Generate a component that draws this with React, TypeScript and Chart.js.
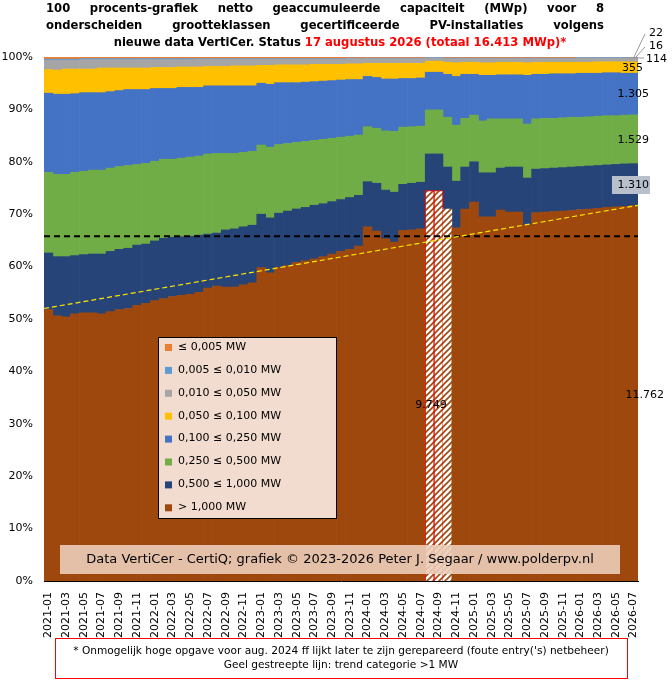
import React, { useEffect, useRef } from "react";
import { Chart, registerables } from "chart.js";
Chart.register(...registerables);

const months: string[] = [];
for (let y = 2021; y <= 2026; y++) for (let m = 1; m <= 12; m++) { if (y === 2026 && m > 7) break; months.push(`${y}-${String(m).padStart(2, "0")}`); }

// cumulative tops (%)
const topGt1MW = [51.8,50.6,50.4,51.0,51.2,51.2,51.0,51.4,51.8,52.0,52.6,53.0,53.5,53.9,54.3,54.5,54.7,55.1,55.9,56.3,56.1,56.1,56.5,56.9,59.8,58.8,59.8,60.2,60.8,61.1,61.5,61.9,62.4,62.9,63.3,63.9,67.6,66.8,65.3,64.7,66.9,67.0,67.2,74.5,74.5,71.0,67.4,71.0,72.3,69.5,69.5,70.8,70.4,70.4,67.9,70.3,70.4,70.5,70.6,70.7,70.9,71.0,71.1,71.3,71.4,71.5,71.66];
const top500_1000 = [62.6,61.9,61.9,62.1,62.3,62.4,62.4,62.9,63.3,63.5,64.1,64.3,64.9,65.4,65.6,65.7,65.8,66.0,66.2,66.4,67.0,67.2,67.6,67.9,70.0,69.3,70.2,70.6,71.0,71.3,71.7,72.0,72.4,72.8,73.2,73.6,76.2,75.9,74.6,74.2,75.7,75.9,76.1,81.5,81.5,79.0,76.3,79.0,80.0,77.9,77.9,78.8,79.0,79.0,76.9,78.6,78.7,78.8,78.9,79.0,79.1,79.2,79.3,79.4,79.5,79.6,79.64];
const top250_500 = [78.0,77.6,77.6,78.0,78.2,78.4,78.4,78.8,79.1,79.3,79.5,79.7,80.1,80.5,80.5,80.7,80.9,81.1,81.5,81.6,81.6,81.6,81.8,82.0,83.2,82.8,83.3,83.5,83.7,83.9,84.1,84.3,84.5,84.7,84.9,85.1,86.7,86.4,85.9,85.8,86.6,86.7,86.8,89.9,89.9,88.5,87.0,88.3,88.9,87.8,88.2,88.2,88.2,88.2,87.2,88.2,88.3,88.3,88.4,88.5,88.5,88.6,88.7,88.8,88.8,88.9,88.96];
const top100_250 = [93.1,92.9,92.9,93.0,93.2,93.2,93.2,93.4,93.6,93.8,93.8,93.8,94.0,94.0,94.0,94.2,94.2,94.2,94.5,94.5,94.5,94.5,94.5,94.5,95.0,94.8,95.1,95.1,95.1,95.2,95.3,95.4,95.5,95.6,95.7,95.7,96.3,96.1,95.8,95.8,95.9,95.9,96.0,97.1,97.1,96.7,96.3,96.7,96.7,96.5,96.5,96.6,96.6,96.6,96.5,96.7,96.7,96.8,96.8,96.8,96.9,96.9,96.9,97.0,97.0,96.9,96.91];
const top50_100 = [97.6,97.5,97.7,97.7,97.7,97.7,97.9,97.9,97.9,97.9,97.9,97.9,98.0,98.0,98.0,98.1,98.1,98.1,98.2,98.2,98.2,98.3,98.3,98.3,98.4,98.4,98.5,98.5,98.5,98.5,98.6,98.6,98.6,98.6,98.7,98.7,98.8,98.8,98.8,98.8,98.8,98.8,98.8,99.2,99.2,99.0,98.9,99.0,99.0,98.9,98.9,99.0,99.0,99.0,98.9,99.0,99.0,99.0,99.0,99.0,99.0,99.0,99.1,99.1,99.1,99.1,99.07];
const top10_50 = [99.4,99.4,99.4,99.4,99.5,99.5,99.5,99.5,99.5,99.5,99.5,99.5,99.5,99.5,99.5,99.5,99.5,99.6,99.6,99.6,99.6,99.6,99.6,99.6,99.6,99.6,99.6,99.6,99.6,99.6,99.6,99.6,99.6,99.6,99.7,99.7,99.7,99.7,99.7,99.7,99.7,99.7,99.7,99.8,99.8,99.7,99.7,99.7,99.7,99.7,99.7,99.7,99.7,99.7,99.7,99.7,99.7,99.7,99.7,99.7,99.8,99.8,99.8,99.8,99.8,99.8,99.76];
const top5_10 = [99.6,99.6,99.6,99.6,99.7,99.7,99.7,99.7,99.7,99.7,99.7,99.7,99.7,99.7,99.7,99.7,99.7,99.7,99.7,99.7,99.7,99.7,99.7,99.7,99.7,99.7,99.7,99.7,99.7,99.7,99.7,99.7,99.7,99.7,99.8,99.8,99.8,99.8,99.8,99.8,99.8,99.8,99.8,99.9,99.9,99.8,99.8,99.8,99.8,99.8,99.8,99.8,99.8,99.8,99.8,99.8,99.8,99.8,99.8,99.8,99.9,99.9,99.9,99.9,99.9,99.9,99.86];

const seriesNames = ["≤ 0,005 MW","0,005 ≤ 0,010 MW","0,010 ≤ 0,050 MW","0,050 ≤ 0,100 MW","0,100 ≤ 0,250 MW","0,250 ≤ 0,500 MW","0,500 ≤ 1,000 MW","> 1,000 MW"];
const seriesColors = ["#ED7D31","#5B9BD5","#A5A5A5","#FFC000","#4472C4","#70AD47","#264478","#9E480E"];
const hatchedIdx = [43, 44, 45];
const redBorderIdx = [43, 44];
const avgLine = 65.8;
const trendStart = 52.0;
const trendEnd = 71.7;

const F = "'DejaVu Sans', Verdana, sans-serif";

export default function App() {
  const ref = useRef<HTMLCanvasElement>(null);
  useEffect(() => {
    document.body.style.margin = "0";
    const tops = [topGt1MW, top500_1000, top250_500, top100_250, top50_100, top10_50, top5_10, months.map(() => 100)];
    const segs = tops.map((t, k) => t.map((v, i) => +(v - (k === 0 ? 0 : tops[k - 1][i])).toFixed(3)));
    const pc = document.createElement("canvas"); pc.width = 6; pc.height = 6;
    const p = pc.getContext("2d")!;
    p.fillStyle = "#fff"; p.fillRect(0, 0, 6, 6);
    p.strokeStyle = "#9E480E"; p.lineWidth = 1.6;
    p.beginPath(); p.moveTo(-1, 7); p.lineTo(7, -1); p.moveTo(-1, 1); p.lineTo(1, -1); p.moveTo(5, 7); p.lineTo(7, 5); p.stroke();
    const pattern = p.createPattern(pc, "repeat")!;
    const order = [7, 6, 5, 4, 3, 2, 1, 0];
    const datasets: any[] = segs.map((d, k) => {
      const ni = order[k];
      const ds: any = { label: seriesNames[ni], data: d, backgroundColor: seriesColors[ni], borderWidth: 0, barPercentage: 1, categoryPercentage: 1 };
      if (k === 0) {
        ds.backgroundColor = months.map((_, i) => hatchedIdx.includes(i) ? pattern : seriesColors[ni]);
        ds.borderColor = "#FF0000";
        ds.borderWidth = months.map((_, i) => redBorderIdx.includes(i) ? 1 : 0);
        ds.borderSkipped = "bottom";
      }
      return ds;
    });

    const overlay = {
      id: "overlay",
      afterDatasetsDraw(c: any) {
        const ctx = c.ctx; const a = c.chartArea; const y = c.scales.y;
        ctx.save();
        ctx.setLineDash([6, 4]); ctx.lineWidth = 2; ctx.strokeStyle = "#000";
        ctx.beginPath(); ctx.moveTo(a.left, y.getPixelForValue(avgLine)); ctx.lineTo(a.right, y.getPixelForValue(avgLine)); ctx.stroke();
        ctx.setLineDash([5, 3]); ctx.lineWidth = 1.2; ctx.strokeStyle = "#FFE600";
        ctx.beginPath(); ctx.moveTo(a.left, y.getPixelForValue(trendStart)); ctx.lineTo(a.right, y.getPixelForValue(trendEnd)); ctx.stroke();
        ctx.setLineDash([]);
        ctx.fillStyle = "#F2DCCF"; ctx.fillRect(158, 337, 178, 181);
        ctx.strokeStyle = "#000"; ctx.lineWidth = 1; ctx.strokeRect(158.5, 337.5, 178, 181);
        ctx.font = `11px ${F}`; ctx.textBaseline = "middle"; ctx.textAlign = "left";
        seriesNames.forEach((n, i) => {
          const yy = 347 + i * 22.9;
          ctx.fillStyle = seriesColors[i]; ctx.fillRect(165, yy - 3, 7, 7);
          ctx.fillStyle = "#000"; ctx.fillText(n, 178, yy);
        });
        ctx.fillStyle = "rgba(236,205,185,0.9)"; ctx.fillRect(60, 545, 560, 29);
        ctx.fillStyle = "#000"; ctx.font = `13px ${F}`; ctx.textAlign = "center";
        ctx.fillText("Data VertiCer - CertiQ; grafiek © 2023-2026 Peter J. Segaar / www.polderpv.nl", 340, 560);
        ctx.font = `11px ${F}`; ctx.textAlign = "center";
        ctx.fillText("9.749", 431, 405);
        ctx.textAlign = "right";
        ctx.fillText("11.762", 664, 395);
        ctx.fillText("355", 643, 68);
        ctx.fillText("1.305", 649, 94);
        ctx.fillText("1.529", 649, 140);
        ctx.fillStyle = "#B8C0CE"; ctx.fillRect(612, 176, 38, 18);
        ctx.fillStyle = "#000"; ctx.fillText("1.310", 649, 185);
        ctx.textAlign = "left";
        ctx.fillText("22", 649, 33); ctx.fillText("16", 649, 46); ctx.fillText("114", 646, 59);
        ctx.strokeStyle = "#999"; ctx.lineWidth = 1;
        ctx.beginPath(); ctx.moveTo(634, 57); ctx.lineTo(645, 34); ctx.moveTo(636, 57); ctx.lineTo(645, 47); ctx.moveTo(638, 58); ctx.lineTo(644, 58); ctx.stroke();
        ctx.font = `bold 11.6px ${F}`; ctx.fillStyle = "#000"; ctx.textBaseline = "middle";
        const just = (text: string, x0: number, x1: number, yy: number) => {
          const w = text.split(" "); const tw = w.reduce((s, t) => s + ctx.measureText(t).width, 0);
          const gap = (x1 - x0 - tw) / (w.length - 1); let x = x0; ctx.textAlign = "left";
          w.forEach(t => { ctx.fillText(t, x, yy); x += ctx.measureText(t).width + gap; });
        };
        just("100 procents-grafiek netto geaccumuleerde capaciteit (MWp) voor 8", 46, 604, 9);
        just("onderscheiden grootteklassen gecertificeerde PV-installaties volgens", 46, 604, 26);
        const t1 = "nieuwe data VertiCer. Status ", t2 = "17 augustus 2026 (totaal 16.413 MWp)*";
        const w1 = ctx.measureText(t1).width, w2 = ctx.measureText(t2).width;
        const x = 340 - (w1 + w2) / 2; ctx.textAlign = "left";
        ctx.fillText(t1, x, 43); ctx.fillStyle = "#FF0000"; ctx.fillText(t2, x + w1, 43);
        ctx.strokeStyle = "#FF0000"; ctx.lineWidth = 1; ctx.strokeRect(55.5, 638.5, 572, 40);
        ctx.fillStyle = "#000"; ctx.font = `10.6px ${F}`; ctx.textAlign = "center";
        ctx.fillText("* Onmogelijk hoge opgave voor aug. 2024 ff lijkt later te zijn gerepareerd (foute entry('s) netbeheer)", 341, 651);
        ctx.fillText("Geel gestreepte lijn: trend categorie >1 MW", 341, 665);
        ctx.restore();
      },
    };

    const chart = new Chart(ref.current!, {
      type: "bar",
      data: { labels: months, datasets },
      options: {
        animation: false, responsive: false, maintainAspectRatio: false,
        layout: { padding: { top: 57, right: 34, left: 0, bottom: 0 } },
        plugins: { legend: { display: false }, tooltip: { enabled: false }, title: { display: false } },
        scales: {
          x: {
            stacked: true, offset: true,
            grid: { display: false }, border: { color: "#000" },
            ticks: { autoSkip: false, maxRotation: 90, minRotation: 90, color: "#000", font: { family: F, size: 11 },
              callback: (_v: any, i: number) => (i % 2 === 0 ? months[i] : "") },
            afterFit: (s: any) => { s.height = 100; },
          },
          y: {
            stacked: true, min: 0, max: 100,
            grid: { display: false }, border: { color: "#000" },
            ticks: { stepSize: 10, color: "#000", font: { family: F, size: 11 }, callback: (v: any) => v + "%" },
            afterFit: (s: any) => { s.width = 44; },
          },
        },
      },
      plugins: [overlay],
    });
    return () => chart.destroy();
  }, []);
  return <canvas ref={ref} width={672} height={681} style={{ display: "block" }} />;
}
